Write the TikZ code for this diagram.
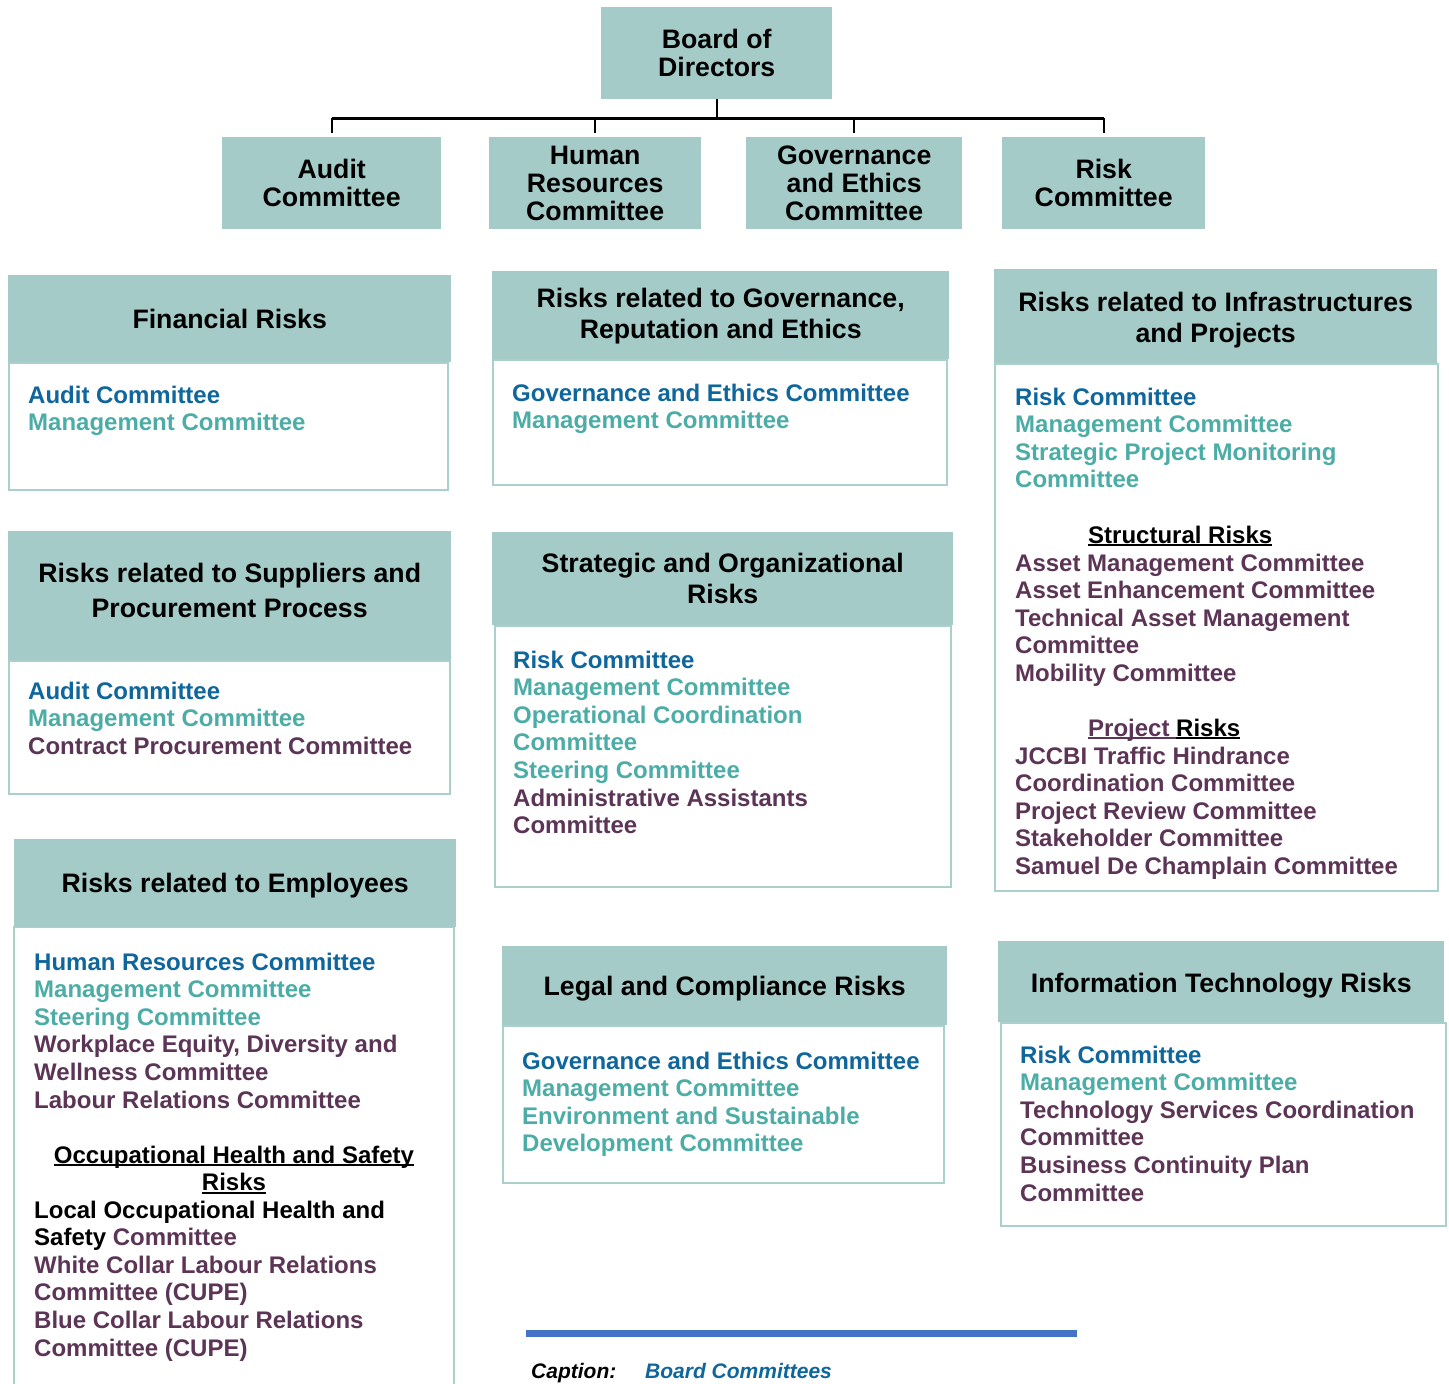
\documentclass[tikz,border=0pt]{standalone}
\usepackage{fontspec}
\setmainfont{Liberation Sans}
\usetikzlibrary{calc}
\definecolor{hdrfill}{HTML}{A4CBC7}
\definecolor{bodyline}{HTML}{AAD0CC}
\definecolor{cblue}{HTML}{0F669C}
\definecolor{cteal}{HTML}{4BADA6}
\definecolor{cpurple}{HTML}{5C3556}
\definecolor{capline}{HTML}{4472C4}
\newcommand\cBlue{\color{cblue}}
\newcommand\cTeal{\color{cteal}}
\newcommand\cPurp{\color{cpurple}}
\newcommand\blines[1]{\begin{tabular}[t]{@{}l@{}}#1\end{tabular}}
\newcommand\clines[1]{\begin{tabular}[t]{@{}c@{}}#1\end{tabular}}
\newcommand\hdrtext[2]{\raisebox{#1}[\height][\depth]{\clines{#2}}}
\newcommand\myul[2][black]{\setbox0\hbox{\color{#1}#2}\rlap{\color{#1}\rule[-3pt]{\wd0}{2pt}}\box0}
\tikzset{
  hdr/.style={fill=hdrfill, draw=none, inner sep=0pt, anchor=north west, align=center,
    font=\fontsize{26.7}{31}\selectfont\bfseries},
  topbox/.style={fill=hdrfill, draw=none, inner sep=0pt, anchor=north west, align=center,
    minimum height=92, font=\fontsize{26.7}{28}\selectfont\bfseries},
  bodybox/.style={draw=bodyline, line width=1.5pt, fill=white, inner sep=0pt, anchor=north west},
  btxt/.style={anchor=base west, inner sep=0pt, font=\fontsize{24}{27.6}\selectfont\bfseries},
  ctxt/.style={anchor=base, inner sep=0pt, font=\fontsize{24}{27.6}\selectfont\bfseries},
  conn/.style={draw=black, line width=2pt},
  bus/.style={draw=black, line width=3pt},
  captxt/.style={anchor=base west, inner sep=0pt, font=\fontsize{21}{25}\selectfont\bfseries\itshape},
}
\begin{document}
\begin{tikzpicture}[x=1pt, y=-1pt]
\useasboundingbox (0,0) rectangle (1449,1384);
\fill[white] (0,0) rectangle (1449,1384);

% ---- top organisation chart ----
\node[topbox, minimum width=231] (board) at (601,7) {Board of\\Directors};
\node[topbox, minimum width=219] (audit) at (222,137) {Audit\\Committee};
\node[topbox, minimum width=212] (hr) at (489,137) {Human\\Resources\\Committee};
\node[topbox, minimum width=216] (gov) at (746,137) {Governance\\and Ethics\\Committee};
\node[topbox, minimum width=203] (risk) at (1002,137) {Risk\\Committee};
\coordinate (busy) at (0,118);
\draw[conn] (board.south) -- (board.south |- busy);
\draw[bus] (audit.north |- busy) -- (risk.north |- busy);
\draw[conn] ([yshift=4pt]audit.north) -- (audit.north |- busy);
\draw[conn] ([yshift=4pt]hr.north) -- (hr.north |- busy);
\draw[conn] ([yshift=4pt]gov.north) -- (gov.north |- busy);
\draw[conn] ([yshift=4pt]risk.north) -- (risk.north |- busy);

% ---- body boxes ----
\node[bodybox, minimum width=439, minimum height=127] (b1) at (8,362) {};
\node[bodybox, minimum width=454, minimum height=125] (b2) at (492,359) {};
\node[bodybox, minimum width=443, minimum height=527] (b3) at (994,363) {};
\node[bodybox, minimum width=441, minimum height=133] (b4) at (8,660) {};
\node[bodybox, minimum width=456, minimum height=261] (b5) at (494,625) {};
\draw[draw=bodyline, line width=1.5pt] (14,1384) -- (14,927) -- (454,927) -- (454,1384);
\node[bodybox, minimum width=441, minimum height=157] (b7) at (502,1025) {};
\node[bodybox, minimum width=445, minimum height=203] (b8) at (1000,1022) {};

% ---- headers ----
\node[hdr, minimum width=443, minimum height=87] (h1) at (8,275) {\hdrtext{-4pt}{Financial Risks}};
\node[hdr, minimum width=457, minimum height=88] (h2) at (492,271) {\hdrtext{-2pt}{Risks related to Governance,\\Reputation and Ethics}};
\node[hdr, minimum width=443, minimum height=94] (h3) at (994,269) {\hdrtext{-5pt}{Risks related to Infrastructures\\and Projects}};
\node[hdr, minimum width=443, minimum height=129, font=\fontsize{26.7}{35}\selectfont\bfseries] (h4) at (8,531) {\hdrtext{3pt}{Risks related to Suppliers and\\Procurement Process}};
\node[hdr, minimum width=461, minimum height=93] (h5) at (492,532) {\hdrtext{-3pt}{Strategic and Organizational\\Risks}};
\node[hdr, minimum width=442, minimum height=88] (h6) at (14,839) {\hdrtext{-3pt}{Risks related to Employees}};
\node[hdr, minimum width=445, minimum height=79] (h7) at (502,946) {\hdrtext{-4pt}{Legal and Compliance Risks}};
\node[hdr, minimum width=446, minimum height=81] (h8) at (998,941) {\hdrtext{-5pt}{Information Technology Risks}};

% ---- body texts ----
\node[btxt] (t1) at (28,403) {\blines{\cBlue Audit Committee\\ \cTeal Management Committee}};
\node[btxt] (t2) at (512,401) {\blines{\cBlue Governance and Ethics Committee\\ \cTeal Management Committee}};
\node[btxt] (t3a) at (1015,405) {\blines{\cBlue Risk Committee\\ \cTeal Management Committee\\ \cTeal Strategic Project Monitoring\\ \cTeal Committee}};
\node[btxt] (t3b) at (1088,543) {\myul{Structural Risks}};
\node[btxt] (t3c) at (1015,571) {\blines{\cPurp Asset Management Committee\\ \cPurp Asset Enhancement Committee\\ \cPurp Technical Asset Management\\ \cPurp Committee\\ \cPurp Mobility Committee}};
\node[btxt] (t3d) at (1088,736) {\myul[cpurple]{Project }\myul{Risks}};
\node[btxt] (t3e) at (1015,764) {\blines{\cPurp JCCBI Traffic Hindrance\\ \cPurp Coordination Committee\\ \cPurp Project Review Committee\\ \cPurp Stakeholder Committee\\ \cPurp Samuel De Champlain Committee}};
\node[btxt] (t4) at (28,699) {\blines{\cBlue Audit Committee\\ \cTeal Management Committee\\ \cPurp Contract Procurement Committee}};
\node[btxt] (t5) at (513,668) {\blines{\cBlue Risk Committee\\ \cTeal Management Committee\\ \cTeal Operational Coordination\\ \cTeal Committee\\ \cTeal Steering Committee\\ \cPurp Administrative Assistants\\ \cPurp Committee}};
\node[btxt] (t6a) at (34,970) {\blines{\cBlue Human Resources Committee\\ \cTeal Management Committee\\ \cTeal Steering Committee\\ \cPurp Workplace Equity, Diversity and\\ \cPurp Wellness Committee\\ \cPurp Labour Relations Committee}};
\node[ctxt] (t6b) at (234,1163) {\clines{\myul{Occupational Health and Safety}\\ \myul{Risks}}};
\node[btxt] (t6c) at (34,1218) {\blines{Local Occupational Health and\\ Safety {\cPurp Committee}\\ \cPurp White Collar Labour Relations\\ \cPurp Committee (CUPE)\\ \cPurp Blue Collar Labour Relations\\ \cPurp Committee (CUPE)}};
\node[btxt] (t7) at (522,1069) {\blines{\cBlue Governance and Ethics Committee\\ \cTeal Management Committee\\ \cTeal Environment and Sustainable\\ \cTeal Development Committee}};
\node[btxt] (t8) at (1020,1063) {\blines{\cBlue Risk Committee\\ \cTeal Management Committee\\ \cPurp Technology Services Coordination\\ \cPurp Committee\\ \cPurp Business Continuity Plan\\ \cPurp Committee}};

% ---- caption ----
\coordinate (capL) at (526,1333.5);
\coordinate (capR) at (1077,1333.5);
\draw[draw=capline, line width=7pt] (capL) -- (capR);
\node[captxt] (caplabel) at (531,1378) {Caption:};
\node[captxt, text=cblue] (captitle) at (645,1378) {Board Committees};
\end{tikzpicture}
\end{document}
